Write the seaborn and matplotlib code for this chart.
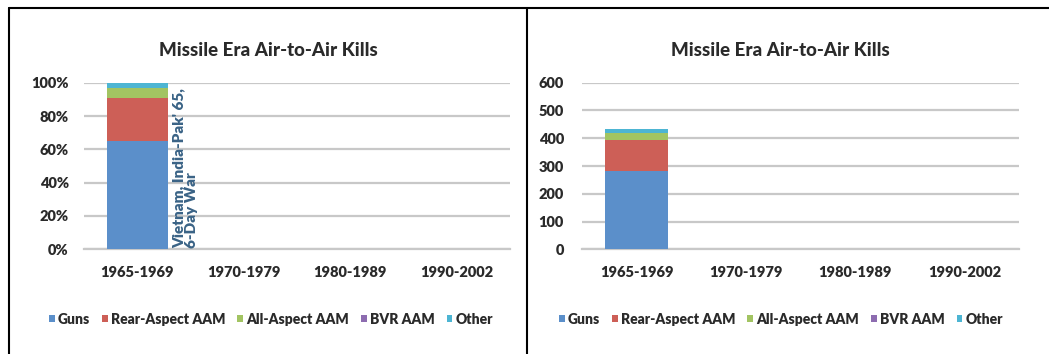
import numpy as np
import pandas as pd
import matplotlib
matplotlib.use("Agg")
import matplotlib.pyplot as plt
from matplotlib.lines import Line2D
from matplotlib.patches import Patch
from matplotlib.ticker import FuncFormatter
import seaborn as sns

# Air-to-air kills by weapon type and period
periods = ["1965-1969", "1970-1979", "1980-1989", "1990-2002"]
series = ["Guns", "Rear-Aspect AAM", "All-Aspect AAM", "BVR AAM", "Other"]
guns = [283, 0, 0, 0]
rear_aspect = [110, 0, 0, 0]
all_aspect = [27, 0, 0, 0]
bvr = [0, 0, 0, 0]
other = [14, 0, 0, 0]
colors = ["#5B8FCA", "#CD5F57", "#A2C462", "#8D6CB0", "#4DB5D3"]

title = "Missile Era Air-to-Air Kills"
note = "Vietnam, India-Pak' 65,\n6-Day War"

sns.set_theme(style="white")
plt.rcParams["font.family"] = ["Lato", "DejaVu Sans"]
plt.rcParams["font.weight"] = 800

counts = pd.DataFrame(
    {"Guns": guns, "Rear-Aspect AAM": rear_aspect, "All-Aspect AAM": all_aspect,
     "BVR AAM": bvr, "Other": other},
    index=periods,
)
totals = counts.sum(axis=1)
shares = counts.div(totals.replace(0, np.nan), axis=0).fillna(0) * 100

fig = plt.figure(figsize=(10.49, 3.54), dpi=100)
W, H = 1049, 354
ax_l = fig.add_axes([84 / W, 1 - 249.3 / H, 426 / W, 166.6 / H])
ax_r = fig.add_axes([582 / W, 1 - 249.3 / H, 437 / W, 166.6 / H])

grid_c = "#C8C8C8"
text_c = "#2A2A2A"
bar_w = 0.57


def stacked(ax, table, ymax, step):
    cum = table.cumsum(axis=1)
    # draw tallest cumulative layer first so lower layers sit on top
    for name, col in reversed(list(zip(series, colors))):
        df = pd.DataFrame({"period": periods, "value": cum[name].values})
        sns.barplot(data=df, x="period", y="value", order=periods, color=col,
                    width=bar_w, linewidth=0, saturation=1, ax=ax, zorder=3)
    ax.set_ylim(0, ymax)
    ax.set_yticks(np.arange(0, ymax + 1, step))
    ax.set_xlim(-0.5, len(periods) - 0.5)
    ax.yaxis.grid(True, color=grid_c, linewidth=1.6, zorder=0)
    ax.set_axisbelow(True)
    for s in ["top", "right", "left"]:
        ax.spines[s].set_visible(False)
    ax.spines["bottom"].set_color(grid_c)
    ax.spines["bottom"].set_linewidth(1.6)
    ax.set_xlabel("")
    ax.set_ylabel("")
    ax.tick_params(axis="both", length=0, labelsize=10.5, colors=text_c)
    ax.tick_params(axis="x", pad=12)


stacked(ax_l, shares, 100, 20)
ax_l.yaxis.set_major_formatter(FuncFormatter(lambda v, p: f"{v:.0f}%"))
ax_l.tick_params(axis="y", pad=11)

stacked(ax_r, counts, 600, 100)
ax_r.tick_params(axis="y", pad=13)

# period note beside the first bar
ax_l.annotate(note, xy=(bar_w / 2, 0), xytext=(3.5, 1), textcoords="offset points",
              rotation=90, ha="left", va="bottom", fontsize=11, fontweight=800,
              color="#3A6386", linespacing=1.0, multialignment="left")

# titles
for cx in (268, 780):
    fig.text(cx / W, 1 - 50 / H, title, ha="center", va="center", fontsize=13.5,
             fontweight=900, color=text_c)

# legends
handles = [Patch(facecolor=c, edgecolor="none") for c in colors]
for cx in (271, 781):
    fig.legend(handles, series, loc="center", bbox_to_anchor=(cx / W, 1 - 319 / H),
               ncol=5, frameon=False, handlelength=0.4, handleheight=0.4,
               handletextpad=0.25, columnspacing=0.85, labelcolor=text_c,
               prop={"family": ["Lato", "DejaVu Sans"], "weight": 800, "size": 10})

# frame lines
lw = 1.5
fig.add_artist(Line2D([9 / W, 1], [1 - 8 / H, 1 - 8 / H], color="black", lw=lw))
fig.add_artist(Line2D([9 / W, 9 / W], [0, 1 - 8 / H], color="black", lw=lw))
fig.add_artist(Line2D([527 / W, 527 / W], [0, 1 - 8 / H], color="black", lw=lw))

fig.savefig("out.png", dpi=100, facecolor="white")
